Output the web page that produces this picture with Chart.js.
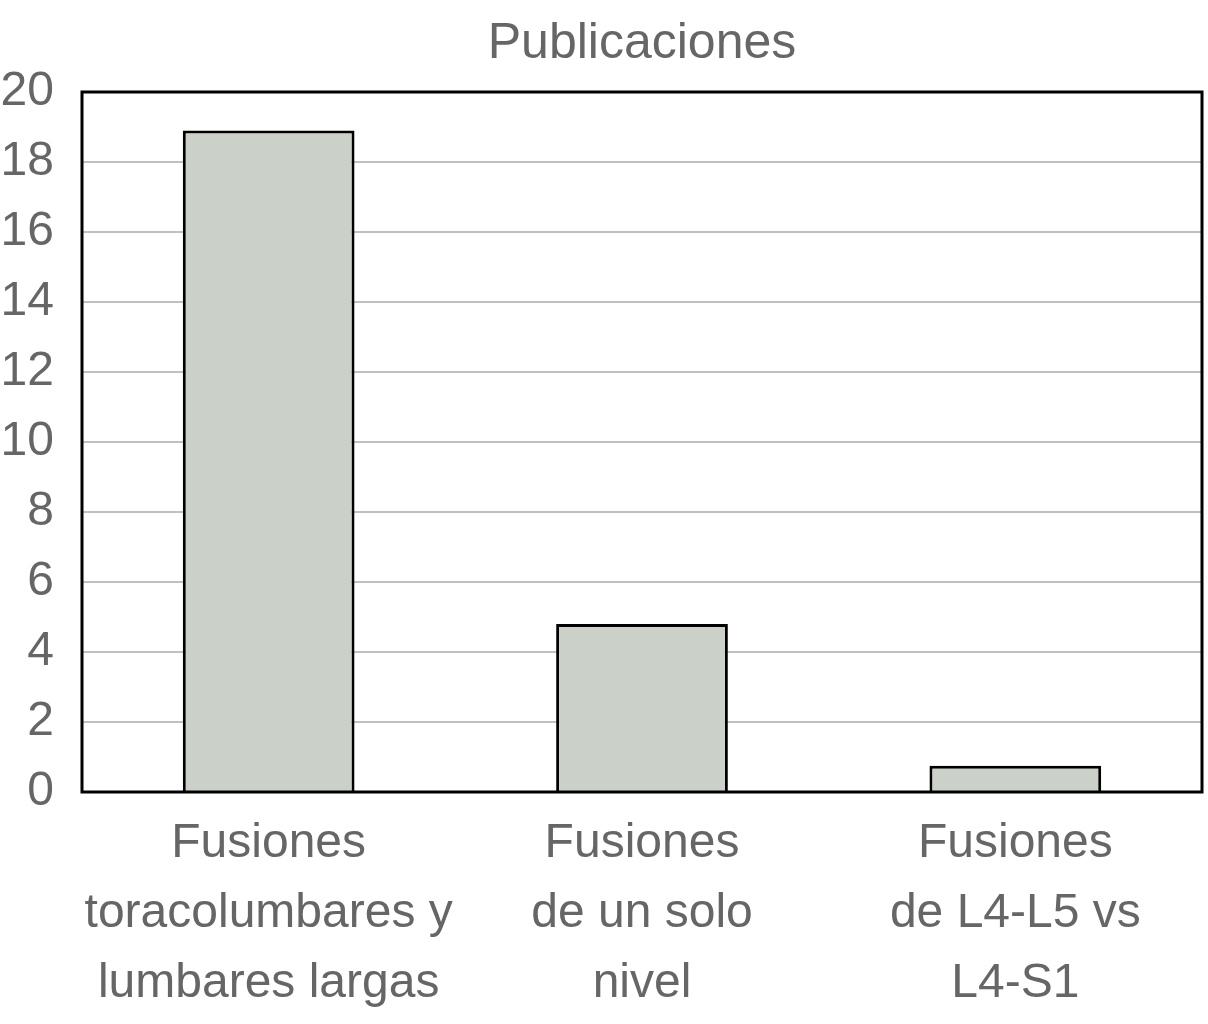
<!DOCTYPE html>
<html>
<head>
<meta charset="utf-8">
<script src="https://cdn.jsdelivr.net/npm/chart.js@4/dist/chart.umd.min.js"></script>
<style>
  html, body { margin: 0; padding: 0; background: #fff; }
  #wrap { width: 1208px; height: 1024px; }
</style>
</head>
<body>
<div id="wrap"><canvas id="barChart" width="1208" height="1024"></canvas></div>
<script>
// Datos
const chartTitle = 'Publicaciones';
const categories = [
    ['Fusiones', 'toracolumbares y', 'lumbares largas'],
    ['Fusiones', 'de un solo', 'nivel'],
    ['Fusiones', 'de L4-L5 vs', 'L4-S1']
];
const publicaciones = [18.9, 4.8, 0.75];
const yTickValues = [0, 2, 4, 6, 8, 10, 12, 14, 16, 18, 20];

const fontFamily = "'Liberation Sans', Arial, sans-serif";
const textColor = '#666666';

// Marco negro alrededor del area del grafico
const frameBox = {
    id: 'frameBox',
    afterDraw(chart) {
        const { ctx, chartArea } = chart;
        ctx.save();
        ctx.strokeStyle = '#000';
        ctx.lineWidth = 3;
        ctx.strokeRect(chartArea.left, chartArea.top,
            chartArea.right - chartArea.left, chartArea.bottom - chartArea.top);
        ctx.restore();
    }
};

function createBarChart() {
    const ctx = document.getElementById('barChart').getContext('2d');
    new Chart(ctx, {
        type: 'bar',
        data: {
            labels: categories,
            datasets: [{
                data: publicaciones,
                backgroundColor: '#cbd1c8',
                borderColor: '#000',
                borderWidth: 3,
                borderSkipped: 'bottom',
                barPercentage: 0.46,
                categoryPercentage: 1
            }]
        },
        options: {
            responsive: false,
            animation: false,
            layout: { padding: { left: 0, right: 6, top: 0, bottom: 0 } },
            plugins: {
                legend: { display: false },
                tooltip: { enabled: false },
                title: {
                    display: true,
                    fullSize: false,
                    text: chartTitle,
                    color: textColor,
                    font: { family: fontFamily, size: 50, weight: 'normal', lineHeight: 1.2 },
                    padding: { top: 14, bottom: 18 }
                }
            },
            scales: {
                x: {
                    grid: { display: false, drawTicks: false },
                    border: { display: false },
                    ticks: {
                        color: textColor,
                        font: { family: fontFamily, size: 48, lineHeight: 1.46 },
                        padding: 17,
                        maxRotation: 0,
                        autoSkip: false
                    },
                    afterFit(scale) { scale.height = 232; }
                },
                y: {
                    min: 0,
                    max: 20,
                    grid: { color: '#c0c0c0', lineWidth: 2, drawTicks: false },
                    border: { display: false },
                    ticks: {
                        color: textColor,
                        font: { family: fontFamily, size: 48 },
                        padding: 28
                    },
                    afterBuildTicks(scale) {
                        scale.ticks = yTickValues.map(v => ({ value: v }));
                    },
                    afterFit(scale) { scale.width = 82; }
                }
            }
        },
        plugins: [frameBox]
    });
}

document.addEventListener('DOMContentLoaded', () => {
    createBarChart();
});
</script>
</body>
</html>
